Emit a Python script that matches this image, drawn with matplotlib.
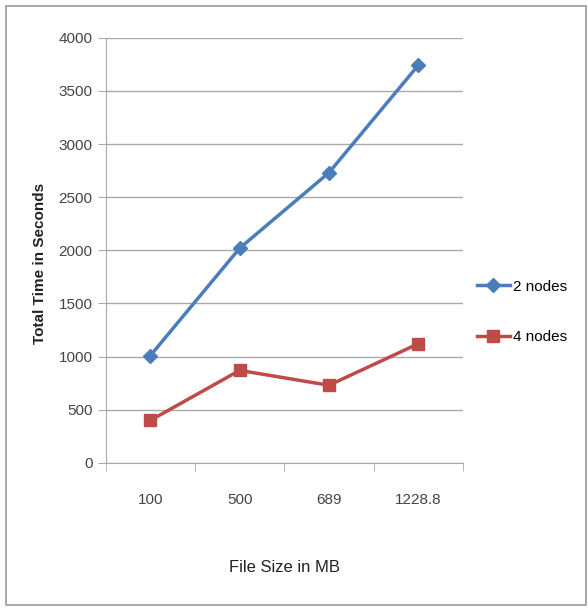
import matplotlib.pyplot as plt
from matplotlib.patches import Rectangle

sizes = ["100", "500", "689", "1228.8"]
nodes2 = [1010, 2020, 2730, 3740]
nodes4 = [400, 870, 730, 1120]

plt.rcParams['font.family'] = ['Liberation Sans', 'DejaVu Sans']

fig = plt.figure(figsize=(5.88, 6.09), dpi=100)
fig.patches.append(Rectangle((0.010, 0.007), 0.986, 0.983, transform=fig.transFigure,
                             fill=False, edgecolor='#9a9a9a', linewidth=1.2))
ax = fig.add_axes([0.180, 0.240, 0.607, 0.698])

x = list(range(len(sizes)))
ax.plot(x, nodes2, color='#4A7EBB', linewidth=2.5, marker='D', markersize=7, label='2 nodes')
ax.plot(x, nodes4, color='#BE4B48', linewidth=2.5, marker='s', markersize=9, label='4 nodes')

ax.set_xlim(-0.5, 3.5)
ax.set_ylim(0, 4000)
ax.set_yticks(range(0, 4001, 500))
ax.set_xticks(x)
ax.set_xticklabels(sizes)
ax.set_xticks([-0.5, 0.5, 1.5, 2.5, 3.5], minor=True)
ax.tick_params(axis='x', which='major', length=0, pad=22, labelsize=11, colors='#444444')
ax.tick_params(axis='x', which='minor', length=6, color='#aaaaaa')
ax.tick_params(axis='y', length=6, color='#aaaaaa', labelsize=11, colors='#444444')
ax.grid(axis='y', color='#aaaaaa', linewidth=1)
ax.set_axisbelow(True)
for s in ['top', 'right']:
    ax.spines[s].set_visible(False)
for s in ['left', 'bottom']:
    ax.spines[s].set_color('#aaaaaa')

ax.set_ylabel("Total Time in Seconds", fontsize=11, fontweight='bold', color='#222222')
ax.yaxis.set_label_coords(-0.165, 0.47)
ax.set_xlabel("File Size in MB", fontsize=12, labelpad=38, color='#222222')

ax.legend(loc='center left', bbox_to_anchor=(1.0, 0.355), frameon=False,
          fontsize=11, labelspacing=2.4, handlelength=2.2, handletextpad=0.2)

fig.savefig("out.png", dpi=100)
